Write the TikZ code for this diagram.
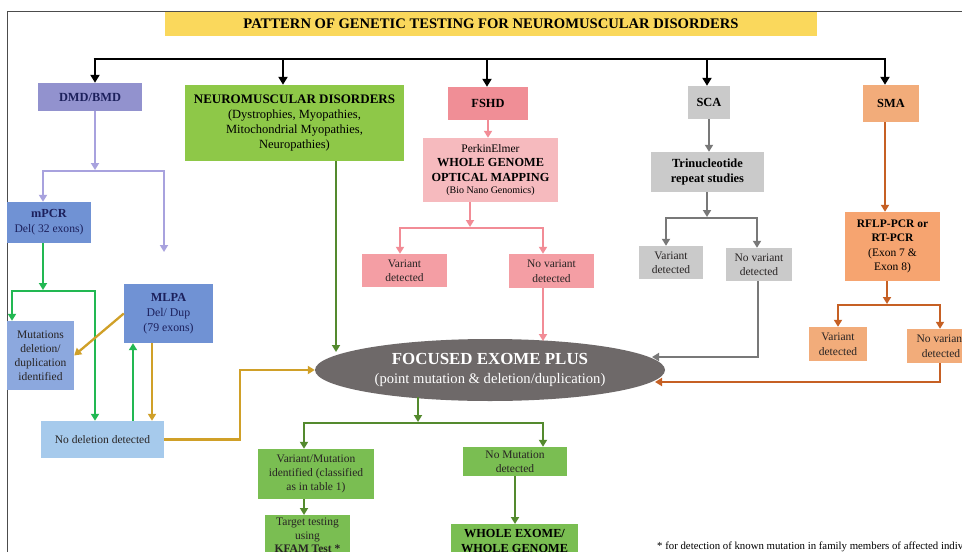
\documentclass[tikz,border=0pt]{standalone}
\usepackage{fontspec}
\setmainfont{Liberation Serif}
\usetikzlibrary{arrows.meta,shapes.geometric}
\definecolor{titlefill}{RGB}{250,216,92}
\definecolor{dmdfill}{RGB}{146,146,206}
\definecolor{dmdline}{RGB}{168,162,222}
\definecolor{navy}{RGB}{28,32,92}
\definecolor{pcrfill}{RGB}{112,146,212}
\definecolor{mutfill}{RGB}{140,168,222}
\definecolor{nodelfill}{RGB}{166,202,236}
\definecolor{brgreen}{RGB}{34,184,82}
\definecolor{goldline}{RGB}{208,160,40}
\definecolor{nmdfill}{RGB}{142,200,72}
\definecolor{dkgreen}{RGB}{84,138,46}
\definecolor{lowfill}{RGB}{122,190,82}
\definecolor{fshdfill}{RGB}{240,142,150}
\definecolor{perkfill}{RGB}{246,186,190}
\definecolor{fvarfill}{RGB}{244,158,164}
\definecolor{pinkline}{RGB}{242,140,150}
\definecolor{scafill}{RGB}{202,202,202}
\definecolor{grayline}{RGB}{120,120,120}
\definecolor{smafill}{RGB}{242,172,122}
\definecolor{rflpfill}{RGB}{246,164,112}
\definecolor{orgline}{RGB}{198,96,36}
\definecolor{exfill}{RGB}{110,105,105}
\definecolor{txt}{RGB}{40,36,36}
\begin{document}
\begin{tikzpicture}[x=1pt,y=-1pt,
    >={Triangle[length=7pt,width=8pt]},
    box/.style={inner sep=0pt,align=center,text=txt,font=\fontsize{11.5}{14.5}\selectfont},
    hd/.style={font=\fontsize{12.4}{15}\selectfont\bfseries},
    bus/.style={line width=2.8pt,black,>={Triangle[length=8pt,width=9pt]}},
    ln/.style={line width=2.3pt}]
  \clip (0,0) rectangle (962,552);
  \fill[white] (0,0) rectangle (962,552);
  \draw[gray!60!black,line width=1pt] (7,552) -- (7,11) -- (962,11);
  \node[box,fill=titlefill,minimum width=652,minimum height=24,font=\fontsize{14.6}{17}\selectfont\bfseries,text=black] (title) at (491,24) {PATTERN OF GENETIC TESTING FOR NEUROMUSCULAR DISORDERS};
  \node[box,hd,fill=dmdfill,minimum width=104,minimum height=28,text=navy] (dmd) at (90,97) {DMD/BMD};
  \node[box,fill=nmdfill,minimum width=219,minimum height=76,text=black,font=\fontsize{12.5}{15}\selectfont] (nmd) at (294.5,123) {{\fontsize{13}{15}\selectfont\bfseries NEUROMUSCULAR DISORDERS}\\(Dystrophies, Myopathies,\\Mitochondrial Myopathies,\\Neuropathies)};
  \node[box,hd,fill=fshdfill,minimum width=80,minimum height=33,text=black] (fshd) at (488,103.5) {FSHD};
  \node[box,fill=perkfill,minimum width=135,minimum height=64,text=black] (perk) at (490.5,170) {PerkinElmer\\{\fontsize{12.3}{15}\selectfont\bfseries WHOLE GENOME}\\{\fontsize{12.3}{15}\selectfont\bfseries OPTICAL MAPPING}\\[-2pt]{\fontsize{10}{12}\selectfont (Bio Nano Genomics)}};
  \node[box,hd,fill=scafill,minimum width=42,minimum height=33,text=black] (sca) at (709,102.5) {SCA};
  \node[box,hd,fill=scafill,minimum width=113,minimum height=40,text=black] (tri) at (707.5,172) {Trinucleotide\\repeat studies};
  \node[box,hd,fill=smafill,minimum width=56,minimum height=37,text=black] (sma) at (891,103.5) {SMA};
  \node[box,fill=rflpfill,minimum width=95,minimum height=69,text=black] (rflp) at (892.5,246.5) {{\bfseries RFLP-PCR or}\\{\bfseries RT-PCR}\\(Exon 7 \&\\Exon 8)};
  \node[box,fill=fvarfill,minimum width=85,minimum height=33] (fvar) at (404.5,270.5) {Variant\\detected};
  \node[box,fill=fvarfill,minimum width=85,minimum height=34] (fnov) at (551.5,271) {No variant\\detected};
  \node[box,fill=scafill,minimum width=64,minimum height=33] (scavar) at (671,262.5) {Variant\\detected};
  \node[box,fill=scafill,minimum width=66,minimum height=33] (scanov) at (759,264.5) {No variant\\detected};
  \node[box,fill=smafill,minimum width=58,minimum height=34] (smavar) at (838,344) {Variant\\detected};
  \node[box,fill=smafill,minimum width=68,minimum height=34] (smanov) at (941,346) {No variant\\detected};
  \node[box,fill=pcrfill,minimum width=84,minimum height=41,text=navy,font=\fontsize{11.6}{15}\selectfont] (mpcr) at (49,222.5) {{\fontsize{12.3}{15}\selectfont\bfseries mPCR}\\Del( 32 exons)};
  \node[box,fill=pcrfill,minimum width=89,minimum height=59,text=navy,font=\fontsize{11.8}{15}\selectfont] (mlpa) at (168.5,313.5) {{\fontsize{12.3}{15}\selectfont\bfseries MLPA}\\Del/ Dup\\(79 exons)};
  \node[box,fill=mutfill,minimum width=67,minimum height=69,font=\fontsize{11.5}{14}\selectfont] (mut) at (40.5,355.5) {Mutations\\deletion/\\duplication\\identified};
  \node[box,fill=nodelfill,minimum width=123,minimum height=37] (nodel) at (102.5,439.5) {No deletion detected};
  \node[ellipse,fill=exfill,minimum width=350,minimum height=62,inner sep=0pt,align=center,text=white,font=\fontsize{14.6}{19}\selectfont] (exome) at (490,370) {{\fontsize{16.9}{19}\selectfont\bfseries FOCUSED EXOME PLUS}\\(point mutation \& deletion/duplication)};
  \node[box,fill=lowfill,minimum width=116,minimum height=50,font=\fontsize{11.5}{14}\selectfont] (varmut) at (316,474) {Variant/Mutation\\identified (classified\\as in table 1)};
  \node[box,fill=lowfill,minimum width=104,minimum height=29,font=\fontsize{11.5}{14}\selectfont] (nomut) at (515,461.5) {No Mutation\\detected};
  \node[box,fill=lowfill,anchor=north,minimum width=85,inner ysep=3pt,font=\fontsize{11.5}{13.5}\selectfont] (target) at (307.5,515) {Target testing\\using\\{\bfseries KFAM Test *}};
  \node[box,fill=lowfill,anchor=north,minimum width=127,inner ysep=5pt,font=\fontsize{12.3}{15}\selectfont\bfseries,text=black] (wex) at (514.5,524) {WHOLE EXOME/\\WHOLE GENOME};
  \node[anchor=base west,inner sep=0pt,font=\fontsize{10.8}{12}\selectfont,text=black] (note) at (657,549) {* for detection of known mutation in family members of affected individuals};
  \foreach \n/\x in {dmd/95,nmd/283,fshd/487,sca/707,sma/885}{
    \coordinate (bus-\n) at (\x,59);
    \draw[bus,->] (bus-\n) -- (bus-\n |- \n.north);
  }
  \draw[bus] ([xshift=-1.4pt]bus-dmd) -- ([xshift=1.4pt]bus-sma);
  \coordinate (dmd-j) at (95,171);
  \coordinate (dmd-l) at (43,171);
  \coordinate (dmd-r) at (164,171);
  \coordinate (dmd-end) at (164,252);
  \draw[ln,dmdline,->] (dmd-j |- dmd.south) -- ([yshift=1pt]dmd-j);
  \draw[ln,dmdline,<->] (dmd-l |- mpcr.north) -- (dmd-l) -- (dmd-r) -- (dmd-end);
  \coordinate (mp-j) at (43,291);
  \coordinate (mp-l) at (12,291);
  \coordinate (mp-r) at (95,291);
  \draw[ln,brgreen,->] (mp-j |- mpcr.south) -- ([yshift=1pt]mp-j);
  \draw[ln,brgreen,<->] (mp-l |- mut.north) -- (mp-l) -- (mp-r) -- (mp-r |- nodel.north);
  \draw[ln,goldline,->] (mlpa.west) -- (mut.east);
  \coordinate (ml-a) at (152,380);
  \coordinate (ml-b) at (133,380);
  \draw[ln,goldline,->] (ml-a |- mlpa.south) -- (ml-a |- nodel.north);
  \draw[ln,brgreen,->] (ml-b |- nodel.north) -- (ml-b |- mlpa.south);
  \coordinate (nd-c) at (240,0);
  \draw[ln,goldline,->] (nodel.east) -- (nodel.east -| nd-c) -- (nd-c |- exome.west) -- (exome.west);
  \coordinate (nm-end) at (336,352);
  \draw[ln,dkgreen,->] (nm-end |- nmd.south) -- (nm-end);
  \draw[ln,pinkline,->] (fshd.south) -- (fshd.south |- perk.north);
  \coordinate (pk-j) at (470,228);
  \coordinate (pk-l) at (400,228);
  \coordinate (pk-r) at (543,228);
  \draw[ln,pinkline,->] (pk-j |- perk.south) -- ([yshift=1pt]pk-j);
  \draw[ln,pinkline,<->] (pk-l |- fvar.north) -- (pk-l) -- (pk-r) -- (pk-r |- fnov.north);
  \coordinate (fn-end) at (543,341);
  \draw[ln,pinkline,->] (fn-end |- fnov.south) -- (fn-end);
  \draw[ln,grayline,->] (sca.south) -- (sca.south |- tri.north);
  \coordinate (tr-j) at (707,218);
  \coordinate (tr-l) at (666,218);
  \coordinate (tr-r) at (757,218);
  \draw[ln,grayline,->] (tr-j |- tri.south) -- ([yshift=1pt]tr-j);
  \draw[ln,grayline,<->] (tr-l |- scavar.north) -- (tr-l) -- (tr-r) -- (tr-r |- scanov.north);
  \coordinate (sn-c) at (758,357);
  \coordinate (sn-end) at (652,357);
  \draw[ln,grayline,->] (sn-c |- scanov.south) -- (sn-c) -- (sn-end);
  \coordinate (sm-x) at (885,0);
  \draw[ln,orgline,->] (sm-x |- sma.south) -- (sm-x |- rflp.north);
  \coordinate (rf-j) at (887,305);
  \coordinate (rf-l) at (838,305);
  \coordinate (rf-r) at (940,305);
  \draw[ln,orgline,->] (rf-j |- rflp.south) -- ([yshift=1pt]rf-j);
  \draw[ln,orgline,<->] (rf-l |- smavar.north) -- (rf-l) -- (rf-r) -- (rf-r |- smanov.north);
  \coordinate (sv-c) at (940,382);
  \coordinate (sv-end) at (655,382);
  \draw[ln,orgline,->] (sv-c |- smanov.south) -- (sv-c) -- (sv-end);
  \coordinate (ex-s) at (418,397);
  \coordinate (ex-j) at (418,423);
  \coordinate (ex-l) at (304,423);
  \coordinate (ex-r) at (543,423);
  \draw[ln,dkgreen,->] (ex-s) -- ([yshift=1pt]ex-j);
  \draw[ln,dkgreen,<->] (ex-l |- varmut.north) -- (ex-l) -- (ex-r) -- (ex-r |- nomut.north);
  \draw[ln,dkgreen,->] (ex-l |- varmut.south) -- (ex-l |- target.north);
  \draw[ln,dkgreen,->] (nomut.south) -- (nomut.south |- wex.north);
\end{tikzpicture}
\end{document}
